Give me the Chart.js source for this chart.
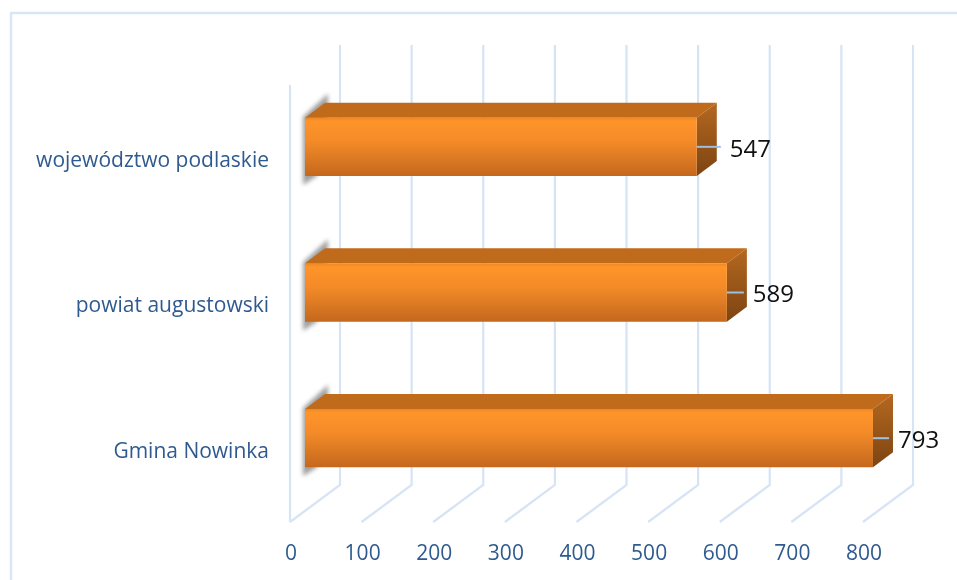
<!DOCTYPE html>
<html>
<head>
<meta charset="utf-8">
<style>
  html, body { margin: 0; padding: 0; background: #fff; }
  #wrap { width: 957px; height: 580px; }
</style>
</head>
<body>
<div id="wrap"><canvas id="myChart" width="957" height="580"></canvas></div>
<script src="https://cdn.jsdelivr.net/npm/chart.js@4"></script>
<script>
const categories = ['województwo podlaskie', 'powiat augustowski', 'Gmina Nowinka']
const values = [547, 589, 793]
const leaderLengths = [24, 17, 16]

const GRID = '#d6e4f6'
const TICK_COLOR = '#2f5a8f'
const BAR_PCT = 0.4

// the pseudo 3d box: the bars sit between the front and back plane of the floor
const depth = { frontX: -15, backX: 35, frontY: 522, backY: 485, backTop: 45, frontTop: 85, barX: 20, barY: 15 }

const frontGradient = function (c) {
    const yScale = c.chart.scales.y
    if (!yScale || !isFinite(yScale.getPixelForValue(c.dataIndex))) return '#f48b28'
    const h = (yScale.bottom - yScale.top) / categories.length * BAR_PCT
    const top = yScale.getPixelForValue(c.dataIndex) - h / 2
    const g = c.chart.ctx.createLinearGradient(0, top, 0, top + h)
    g.addColorStop(0, '#ec8722')
    g.addColorStop(0.06, '#ff942a')
    g.addColorStop(0.4, '#f48b28')
    g.addColorStop(1, '#c4681e')
    return g
}

const box3d = {
    id: 'box3d',
    beforeDatasetsDraw(chart) {
        const ctx = chart.ctx
        const x = chart.scales.x

        // frame of the picture
        ctx.save()
        ctx.strokeStyle = '#d9e6f6'
        ctx.lineWidth = 2.5
        ctx.beginPath()
        ctx.moveTo(11, 580)
        ctx.lineTo(11, 13)
        ctx.lineTo(957, 13)
        ctx.stroke()

        // grid lines
        ctx.strokeStyle = GRID
        ctx.lineWidth = 2.2
        x.ticks.forEach(function (t) {
            const px = x.getPixelForValue(t.value)
            ctx.beginPath()
            ctx.moveTo(px + depth.frontX, depth.frontY)
            ctx.lineTo(px + depth.backX, depth.backY)
            ctx.lineTo(px + depth.backX, depth.backTop)
            ctx.stroke()
        })
        const zero = x.getPixelForValue(0) + depth.frontX
        ctx.beginPath()
        ctx.moveTo(zero, depth.frontTop)
        ctx.lineTo(zero, depth.frontY)
        ctx.stroke()

        chart.getDatasetMeta(0).data.forEach(function (bar) {
            const top = bar.y - bar.height / 2
            const bottom = bar.y + bar.height / 2
            const left = bar.base
            const right = bar.x

            // soft shadow at the left end of the bar
            ctx.save()
            ctx.filter = 'blur(2px)'
            ctx.fillStyle = '#a0a0a0'
            ctx.beginPath()
            ctx.moveTo(left - 2, top - 1)
            ctx.lineTo(left + 23, top - 24)
            ctx.lineTo(left + 23, top - 14)
            ctx.lineTo(left + 12, bottom)
            ctx.lineTo(left - 2, bottom + 9)
            ctx.closePath()
            ctx.fill()
            ctx.restore()

            // top face
            ctx.fillStyle = '#c06b1c'
            ctx.beginPath()
            ctx.moveTo(left, top)
            ctx.lineTo(left + depth.barX, top - depth.barY)
            ctx.lineTo(right + depth.barX, top - depth.barY)
            ctx.lineTo(right, top)
            ctx.closePath()
            ctx.fill()

            // side face
            const side = ctx.createLinearGradient(0, top - depth.barY, 0, bottom)
            side.addColorStop(0, '#b5681f')
            side.addColorStop(1, '#7c4412')
            ctx.fillStyle = side
            ctx.beginPath()
            ctx.moveTo(right, top)
            ctx.lineTo(right + depth.barX, top - depth.barY)
            ctx.lineTo(right + depth.barX, bottom - depth.barY)
            ctx.lineTo(right, bottom)
            ctx.closePath()
            ctx.fill()
        })
        ctx.restore()
    },
    afterDatasetsDraw(chart) {
        const ctx = chart.ctx
        ctx.save()
        chart.getDatasetMeta(0).data.forEach(function (bar, i) {
            const end = bar.x + leaderLengths[i]
            ctx.strokeStyle = '#9dbfe3'
            ctx.lineWidth = 2
            ctx.beginPath()
            ctx.moveTo(bar.x, bar.y)
            ctx.lineTo(end, bar.y)
            ctx.stroke()

            ctx.fillStyle = '#111'
            ctx.font = '24px "Open Sans"'
            ctx.textAlign = 'left'
            ctx.textBaseline = 'middle'
            ctx.fillText(values[i], end + 9, bar.y + 3)
        })
        ctx.restore()
    }
}

new Chart(document.getElementById('myChart').getContext('2d'), {
    type: 'bar',
    data: {
        labels: categories,
        datasets: [{
            data: values,
            barPercentage: BAR_PCT,
            categoryPercentage: 1,
            backgroundColor: frontGradient
        }]
    },
    options: {
        indexAxis: 'y',
        responsive: false,
        animation: false,
        layout: { padding: { top: 74, right: 79 } },
        plugins: { legend: { display: false }, tooltip: { enabled: false } },
        scales: {
            x: {
                min: 0,
                max: 800,
                afterFit: function (s) { s.height = 69 },
                grid: { display: false },
                border: { display: false },
                ticks: {
                    stepSize: 100,
                    padding: 22,
                    labelOffset: -14,
                    maxRotation: 0,
                    color: TICK_COLOR,
                    font: { family: '"Open Sans"', size: 21 }
                }
            },
            y: {
                afterFit: function (s) { s.width = 305 },
                grid: { display: false },
                border: { display: false },
                ticks: {
                    padding: 28,
                    labelOffset: 14,
                    color: TICK_COLOR,
                    font: { family: '"Open Sans"', size: 21 }
                }
            }
        }
    },
    plugins: [box3d]
})
</script>
</body>
</html>
